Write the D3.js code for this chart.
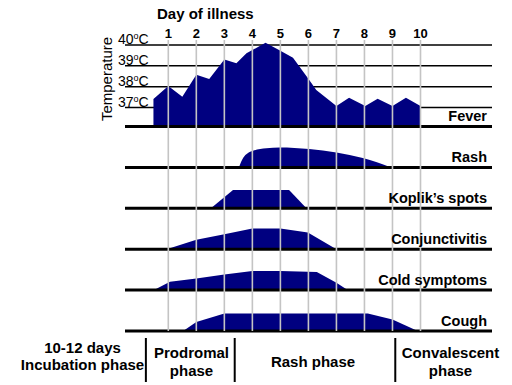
<!DOCTYPE html>
<html>
<head>
<meta charset="utf-8">
<script src="https://cdn.jsdelivr.net/npm/d3@7"></script>
<style>
  body { margin: 0; background: #fff; }
  text { font-family: "Liberation Sans", Arial, sans-serif; }
</style>
</head>
<body>
<div id="chart"></div>
<script>
// days on the top axis
const days = [1, 2, 3, 4, 5, 6, 7, 8, 9, 10];
const tempTicks = [37, 38, 39, 40];

// fever curve (day, temperature °C)
const feverDay  = [0.47, 1.0, 1.5, 2.0, 2.46, 3.0, 3.43, 3.79, 4.47, 5.0, 5.45, 6.03, 6.28, 7.0, 7.45, 8.03, 8.47, 9.0, 9.48, 10.0];
const feverTemp = [37.41, 38.03, 37.52, 38.57, 38.37, 39.31, 39.12, 39.6, 40.11, 39.73, 39.39, 38.32, 37.84, 37.07, 37.47, 37.07, 37.42, 37.07, 37.47, 37.07];

const rowNames = ["Fever", "Rash", "Koplik\u2019s spots", "Conjunctivitis", "Cold symptoms", "Cough"];

// symptom intensity (0-1) by day
const rashDay = [3.52, 3.6, 3.68, 3.82, 4.02, 4.5, 4.97, 6.03, 7.0, 7.94, 8.95];
const rashVal = [0, 0.28, 0.5, 0.7, 0.83, 0.96, 1.0, 0.92, 0.75, 0.47, 0];
const koplikDay = [2.52, 3.31, 5.31, 5.93];
const koplikVal = [0, 0.92, 0.92, 0];
const conjDay = [0.94, 2.0, 3.0, 4.0, 5.0, 5.98, 7.0];
const conjVal = [0, 0.47, 0.75, 1.04, 1.04, 0.83, 0];
const coldDay = [0.49, 1.06, 2.0, 3.0, 4.0, 5.0, 6.3, 7.0, 7.4];
const coldVal = [0, 0.42, 0.58, 0.78, 0.95, 0.95, 0.9, 0.37, 0];
const coughDay = [1.53, 2.0, 3.0, 8.12, 9.0, 9.9];
const coughVal = [0, 0.45, 0.87, 0.87, 0.58, 0];

const phaseBreaks = [0.2, 3.37, 9.1];
const phaseLabels = [["10-12 days", "Incubation phase"], ["Prodromal", "phase"], ["Rash phase"], ["Convalescent", "phase"]];

const W = 512, H = 385;
const navy = "#000080";

const svg = d3.select("#chart").append("svg")
    .attr("width", W)
    .attr("height", H);

const x = d3.scaleLinear().domain([1, 10]).range([168.3, 420.5]);
const rowY = d3.scalePoint().domain(rowNames).range([126.5, 331]);
const temp = d3.scaleLinear().domain([37, 40]).range([107.5, 45]);
const h = d3.scaleLinear().domain([0, 1]).range([0, 20]);

const lineX0 = 125, lineX1 = 492;

// temperature grid
svg.selectAll(".tline")
    .data(tempTicks)
    .enter().append("line")
    .attr("x1", lineX0).attr("x2", lineX1)
    .attr("y1", d => temp(d)).attr("y2", d => temp(d))
    .attr("stroke", "#000").attr("stroke-width", 1.5);

// fever area
const feverPts = feverDay.map((d, i) => ({ day: d, v: feverTemp[i] }));
svg.append("path")
    .datum(feverPts)
    .attr("fill", navy)
    .attr("d", d3.area()
        .x(d => x(d.day))
        .y0(rowY("Fever"))
        .y1(d => temp(d.v)));

// symptom areas
const symptoms = [
  { name: "Rash", day: rashDay, val: rashVal, curve: d3.curveMonotoneX },
  { name: "Koplik\u2019s spots", day: koplikDay, val: koplikVal, curve: d3.curveLinear },
  { name: "Conjunctivitis", day: conjDay, val: conjVal, curve: d3.curveLinear },
  { name: "Cold symptoms", day: coldDay, val: coldVal, curve: d3.curveLinear },
  { name: "Cough", day: coughDay, val: coughVal, curve: d3.curveLinear }
];

symptoms.forEach(s => {
  const base = rowY(s.name);
  const pts = s.day.map((d, i) => ({ day: d, v: s.val[i] }));
  svg.append("path")
      .datum(pts)
      .attr("fill", navy)
      .attr("d", d3.area()
          .curve(s.curve)
          .x(d => x(d.day))
          .y0(base)
          .y1(d => base - h(d.v)));
});

// row baselines
svg.selectAll(".base")
    .data(rowNames)
    .enter().append("line")
    .attr("x1", lineX0).attr("x2", lineX1)
    .attr("y1", d => rowY(d)).attr("y2", d => rowY(d))
    .attr("stroke", "#000").attr("stroke-width", 3);

// day grid lines
svg.selectAll(".dline")
    .data(days)
    .enter().append("line")
    .attr("x1", d => x(d)).attr("x2", d => x(d))
    .attr("y1", 40).attr("y2", 331)
    .attr("stroke", "#c4c4c4").attr("stroke-width", 1.6);

// day labels
svg.selectAll(".dlab")
    .data(days)
    .enter().append("text")
    .attr("x", d => x(d)).attr("y", 38)
    .attr("text-anchor", "middle")
    .style("font-size", "13px").style("font-weight", "bold")
    .text(d => d);

svg.append("text")
    .attr("x", 157).attr("y", 19)
    .style("font-size", "15px").style("font-weight", "bold")
    .text("Day of illness");

// temperature labels
const tl = svg.selectAll(".tlab")
    .data(tempTicks)
    .enter().append("text")
    .attr("x", 118).attr("y", d => temp(d) - 1)
    .style("font-size", "14px");
tl.append("tspan").text(d => d);
tl.append("tspan").attr("dy", -5).style("font-size", "9px").text("o");
tl.append("tspan").attr("dy", 5).text("C");

svg.append("text")
    .attr("transform", "translate(112,79) rotate(-90)")
    .attr("text-anchor", "middle")
    .style("font-size", "15px")
    .text("Temperature");

// row labels
svg.selectAll(".rlab")
    .data(rowNames)
    .enter().append("text")
    .attr("x", 487).attr("y", d => rowY(d) - 5.5)
    .attr("text-anchor", "end")
    .style("font-size", "14.5px").style("font-weight", "bold")
    .text(d => d);

// phase separators
svg.selectAll(".sep")
    .data(phaseBreaks)
    .enter().append("line")
    .attr("x1", d => x(d)).attr("x2", d => x(d))
    .attr("y1", 338).attr("y2", 382)
    .attr("stroke", "#000").attr("stroke-width", 2);

// phase labels
const phaseX = [82.5, 191.5, 313, 450.5];
const phaseY0 = [353, 357.5, 366.5, 357.5];
phaseLabels.forEach((lines, i) => {
  svg.append("text")
      .attr("x", phaseX[i])
      .attr("text-anchor", "middle")
      .style("font-size", "15px").style("font-weight", "bold")
      .selectAll("tspan")
      .data(lines)
      .enter().append("tspan")
      .attr("x", phaseX[i])
      .attr("y", (d, j) => phaseY0[i] + j * (i === 0 ? 17 : 18.5))
      .text(d => d);
});
</script>
</body>
</html>
